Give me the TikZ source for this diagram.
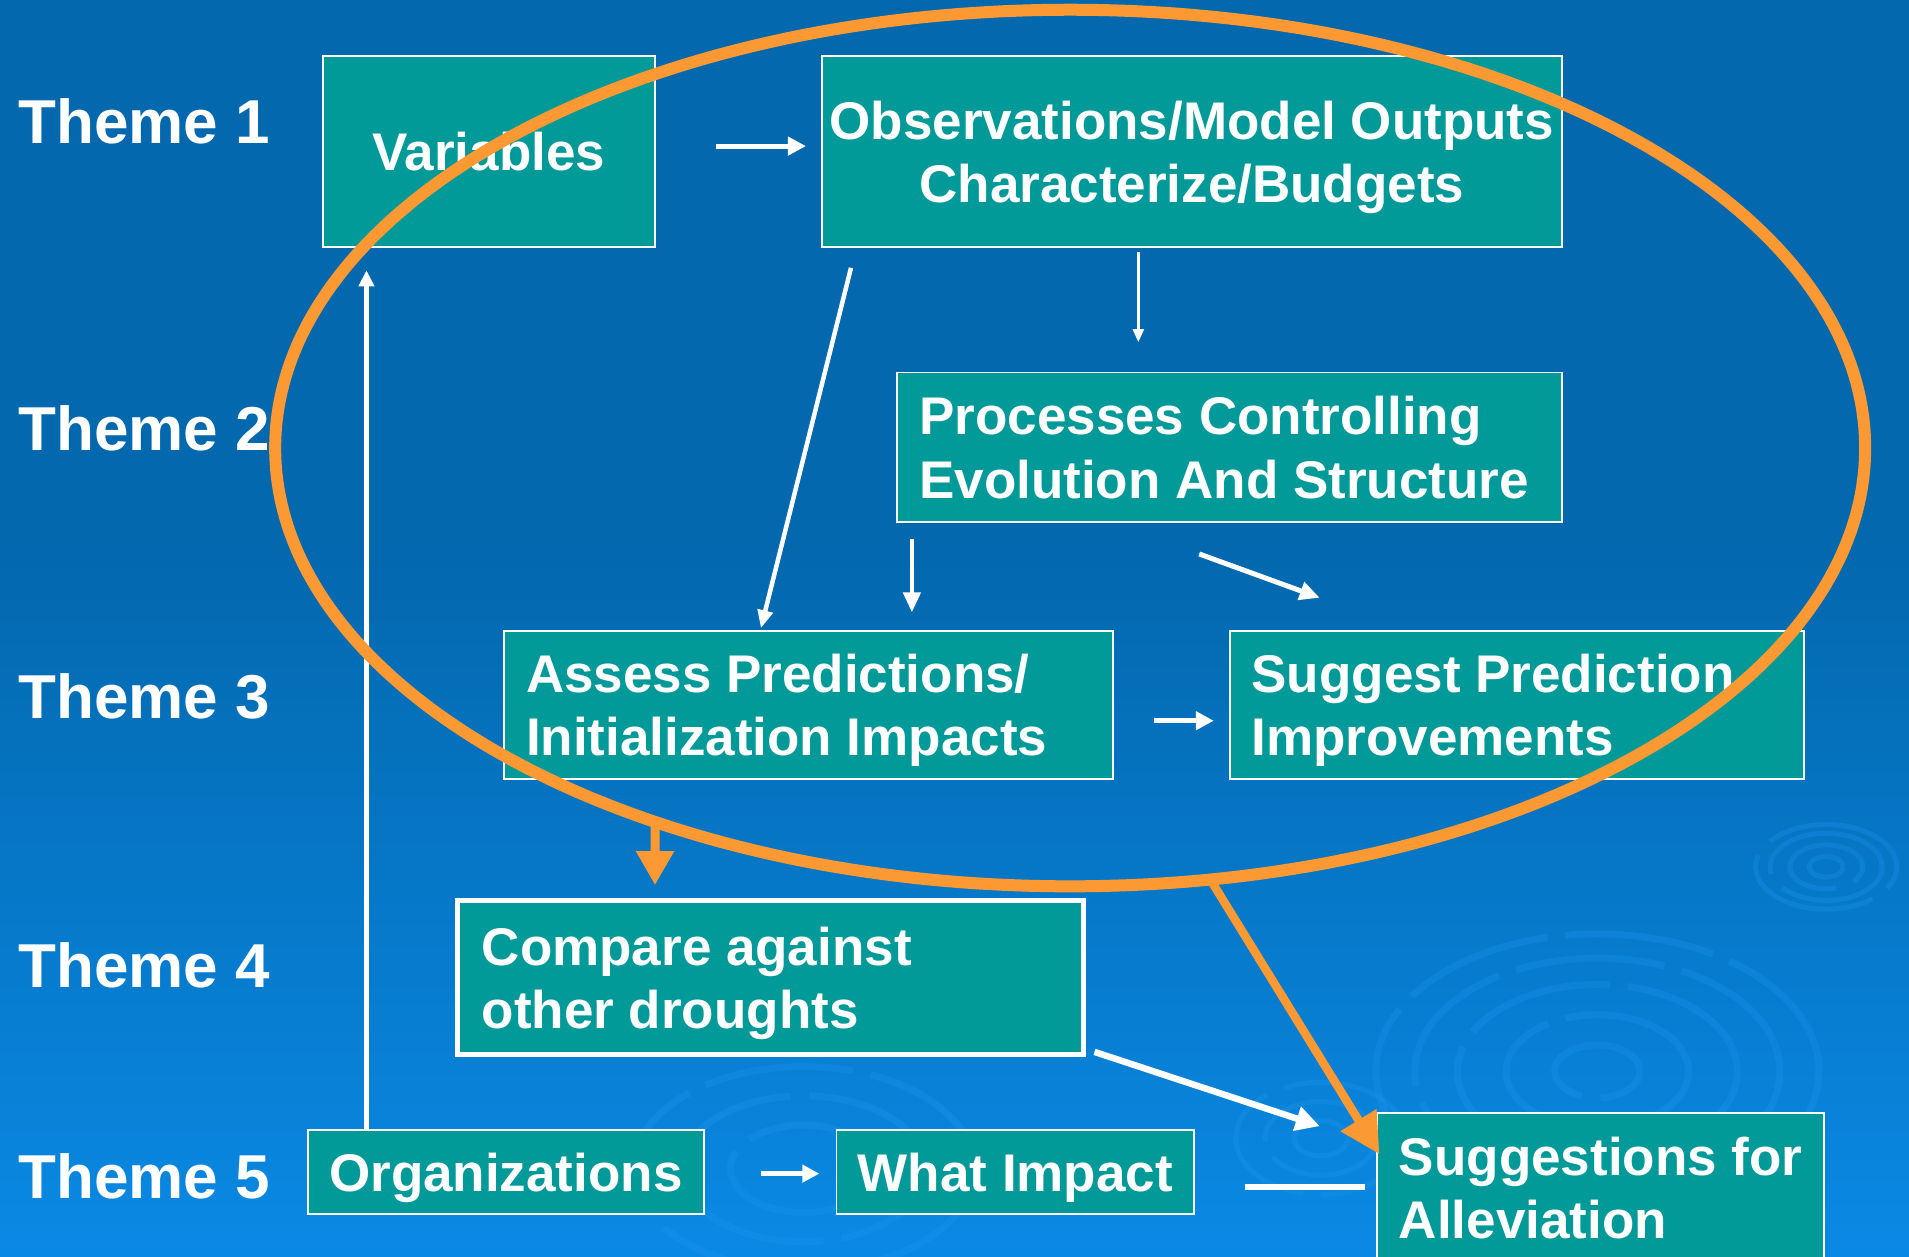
\documentclass[tikz,border=0pt]{standalone}
\usepackage{fontspec}
\setmainfont{Liberation Sans}
\usetikzlibrary{arrows.meta,shapes.geometric,calc}
\definecolor{bgtop}{RGB}{3,104,174}
\definecolor{bgbot}{RGB}{10,137,228}
\definecolor{boxteal}{RGB}{2,154,153}
\definecolor{org}{RGB}{253,153,51}
\definecolor{ripc}{RGB}{30,150,240}
\newcommand\bxfont{\fontsize{53}{63.3}\selectfont\bfseries}
\newcommand\thmfont{\fontsize{62}{70}\selectfont\bfseries}
\newcommand\nodepth[1]{\raisebox{0pt}[\height][0pt]{#1}}
\begin{document}
\begin{tikzpicture}[x=1.2175pt,y=-1.2175pt,
  box/.style={draw=white, line width=1.8pt, fill=boxteal, text=white, inner sep=0pt, font=\bxfont},
  thm/.style={text=white, font=\thmfont, anchor=base west, inner sep=0pt},
  warrow/.style={draw=white, line width=#1},
  oarrow/.style={draw=org, line width=#1},
  ripple/.style={draw=ripc, opacity=0.3, line width=7pt, dash pattern=on 150pt off 18pt}]
\useasboundingbox (0,0) rectangle (1568,1032);
% background
\fill[bgtop] (0,0) rectangle (1568,1032);
\shade[top color=bgtop, bottom color=bgbot] (0,450) rectangle (1568,1032);
% ripples
\foreach \r in {35,75,115,150,182} {\draw[ripple] (1312,880) ellipse [x radius={1.2175pt*\r}, y radius={0.755pt*\r}];}
\foreach \r in {14,30,46,58} {\draw[ripple, line width=5pt] (1500,712) ellipse [x radius={1.2175pt*\r}, y radius={0.73pt*\r}];}
\foreach \r in {60,100,140} {\draw[ripple] (660,960) ellipse [x radius={1.2175pt*\r}, y radius={0.73pt*\r}];}
\foreach \r in {22,46,70} {\draw[ripple, line width=5pt] (1085,935) ellipse [x radius={1.2175pt*\r}, y radius={0.8pt*\r}];}
% theme labels
\node[thm] (t1) at (15,118) {Theme 1};
\node[thm] (t2) at (15,370) {Theme 2};
\node[thm] (t3) at (15,590) {Theme 3};
\node[thm] (t4) at (15,811) {Theme 4};
\node[thm] (t5) at (15,984) {Theme 5};
% boxes
\node[box, minimum width=332.4pt, minimum height=191.1pt] (var) at (401.5,124.5) {Variables};
\node[box, minimum width=740.2pt, minimum height=191.1pt, align=center] (obs) at (979,124.5) {Observations/Model Outputs\\\nodepth{Characterize/Budgets}};
\node[box, minimum width=664.8pt, minimum height=149.8pt, text width=620.8pt, align=flush left] (proc) at (1010,367.5) {\mbox{Processes Controlling}\\\mbox{Evolution And Structure}};
\node[box, minimum width=608.8pt, minimum height=148.5pt, text width=564.8pt, align=flush left] (asp) at (664,579) {\mbox{Assess Predictions/}\\\nodepth{Initialization Impacts}};
\node[box, minimum width=574.7pt, minimum height=148.5pt, text width=530.7pt, align=flush left] (sug) at (1246,579) {\mbox{Suggest Prediction}\\\nodepth{Improvements}};
\node[box, line width=5pt, minimum width=625.8pt, minimum height=153.4pt, text width=577.8pt, align=flush left] (cmp) at (633,803) {\mbox{Compare against}\\\nodepth{other droughts}};
\node[box, text depth=0pt, minimum width=395.7pt, minimum height=84pt] (org) at (415.5,962.5) {Organizations};
\node[box, text depth=0pt, minimum width=357.9pt, minimum height=84pt] (wi) at (834,962.5) {What Impact};
\node[box, minimum width=446.8pt, minimum height=151pt, text width=402.8pt, align=flush left] (all) at (1314.5,976) {\mbox{Suggestions for}\\\mbox{Alleviation}};
% connector end points
\coordinate (a1s) at (588,120);  \coordinate (a1e) at (662,120);
\coordinate (a2s) at (935,207);  \coordinate (a2e) at (935,281);
\coordinate (a3s) at (699,220);  \coordinate (a3e) at (625,516);
\coordinate (a4s) at (749,443);  \coordinate (a4e) at (749,503);
\coordinate (a5s) at (985,455);  \coordinate (a5e) at (1084,491);
\coordinate (a6s) at (948,592);  \coordinate (a6e) at (997,592);
\coordinate (a7s) at (301,928);  \coordinate (a7e) at (301,222);
\coordinate (a8s) at (625,964);  \coordinate (a8e) at (673,964);
\coordinate (a9s) at (899,864);  \coordinate (a9e) at (1084,925);
\coordinate (l1s) at (1023,975); \coordinate (l1e) at (1121,975);
\coordinate (o1e) at (538,727);
\coordinate (o2e) at (1133,948);
% white connectors
\draw[warrow=5pt, -{Triangle[length=18pt,width=18pt]}] (a1s) -- (a1e);
\draw[warrow=2.5pt, -{Triangle[length=13pt,width=11pt]}] (a2s) -- (a2e);
\draw[warrow=4.5pt, -{Triangle[length=18pt,width=15pt]}] (a3s) -- (a3e);
\draw[warrow=4.5pt, -{Triangle[length=20pt,width=17pt]}] (a4s) -- (a4e);
\draw[warrow=5pt, -{Triangle[length=20pt,width=18pt]}] (a5s) -- (a5e);
\draw[warrow=5pt, -{Triangle[length=18pt,width=18pt]}] (a6s) -- (a6e);
\draw[warrow=4.5pt, -{Triangle[length=16pt,width=15pt]}] (a7s) -- (a7e);
\draw[warrow=5pt, -{Triangle[length=17pt,width=17pt]}] (a8s) -- (a8e);
\draw[warrow=6.5pt, -{Triangle[length=24pt,width=24pt]}] (a9s) -- (a9e);
\draw[warrow=5.5pt] (l1s) -- (l1e);
% orange ring and arrows
\node[draw=org, line width=12pt, ellipse, minimum width=1590pt, minimum height=876.6pt, inner sep=0pt, outer sep=0pt] (ring) at (879,368) {};
\draw[oarrow=9pt, -{Triangle[length=34pt,width=36pt]}] (ring.222) -- (o1e);
\draw[oarrow=8.5pt, -{Triangle[length=40pt,width=40pt]}] (ring.288) -- (o2e);
\end{tikzpicture}
\end{document}
